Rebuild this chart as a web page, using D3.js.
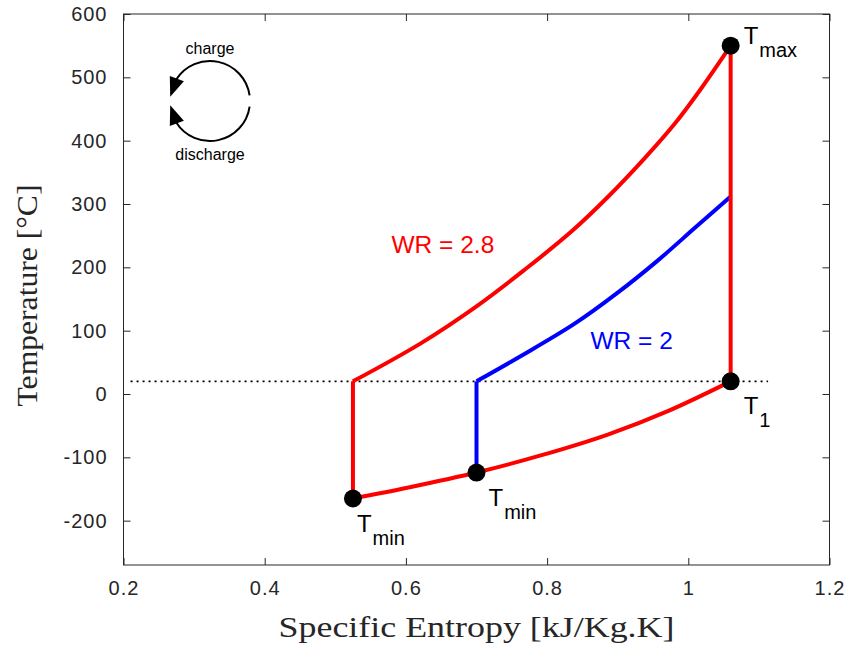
<!DOCTYPE html>
<html>
<head>
<meta charset="utf-8">
<script src="https://cdn.jsdelivr.net/npm/d3@7"></script>
<style>
  body { margin: 0; background: #fff; }
  svg text { font-family: "Liberation Sans", Arial, sans-serif; }
</style>
</head>
<body>
<script>
// T-s diagram values
// WR = 2.8 cycle: compression (upper) and expansion (lower) curves
var redUpperS = [0.525, 0.621, 0.702, 0.768, 0.834, 0.886, 0.938, 0.981, 1.018, 1.06];
var redUpperT = [20, 80, 140, 196, 256, 311, 372, 427, 482, 550];
var redLowerS = [1.06, 0.971, 0.886, 0.791, 0.70, 0.602, 0.525];
var redLowerT = [20, -27, -64, -97, -124, -148, -165];
// WR = 2 cycle
var blueUpperS = [0.70, 0.763, 0.839, 0.900, 0.957, 1.009, 1.06];
var blueUpperT = [20, 60, 111, 160, 211, 262, 312];
var ambientS = [0.21, 1.113];
var ambientT = [20, 20];
var stateS = [1.06, 1.06, 0.525, 0.70];
var stateT = [550, 20, -165, -124];
var stateSub = ['max', '1', 'min', 'min'];
var xTicks = [0.2, 0.4, 0.6, 0.8, 1, 1.2];
var yTicks = [-200, -100, 0, 100, 200, 300, 400, 500, 600];
var xDomain = [0.2, 1.2];
var yDomain = [-270, 600];

var margin = { top: 14, right: 14.5, bottom: 80, left: 123.5 },
    W = 844, H = 645,
    width = W - margin.left - margin.right,
    height = H - margin.top - margin.bottom;

var svg = d3.select("body").append("svg")
    .attr("width", W)
    .attr("height", H);

var g = svg.append("g")
    .attr("transform", "translate(" + margin.left + "," + margin.top + ")");

var x = d3.scaleLinear().domain(xDomain).range([0, width]);
var y = d3.scaleLinear().domain(yDomain).range([height, 0]);

var axisColor = "#262626";

// box with inward ticks on all four sides (matlab style)
function styleAxis(sel, showLabels) {
    sel.select(".domain").remove();
    sel.selectAll(".tick line").attr("stroke", axisColor).attr("stroke-width", 1);
    sel.selectAll(".tick text")
        .attr("fill", axisColor)
        .style("font-size", "20px")
        .style("letter-spacing", "1px")
        .style("display", showLabels ? null : "none");
}
var fmt = function (d) { return String(+d.toFixed(1)); };

g.append("g")
    .attr("transform", "translate(0," + height + ")")
    .call(d3.axisBottom(x).tickValues(xTicks).tickSizeInner(-7).tickSizeOuter(0).tickPadding(16).tickFormat(fmt))
    .call(styleAxis, true);
g.append("g")
    .call(d3.axisTop(x).tickValues(xTicks).tickSizeInner(-7).tickSizeOuter(0))
    .call(styleAxis, false);
g.append("g")
    .call(d3.axisLeft(y).tickValues(yTicks).tickSizeInner(-7).tickSizeOuter(0).tickPadding(16).tickFormat(fmt))
    .call(styleAxis, true);
g.append("g")
    .attr("transform", "translate(" + width + ",0)")
    .call(d3.axisRight(y).tickValues(yTicks).tickSizeInner(-7).tickSizeOuter(0))
    .call(styleAxis, false);

g.append("rect")
    .attr("width", width)
    .attr("height", height)
    .attr("fill", "none")
    .attr("stroke", axisColor)
    .attr("stroke-width", 1);

var line = d3.line()
    .x(function (d) { return x(d[0]); })
    .y(function (d) { return y(d[1]); });
var curve = d3.line()
    .x(function (d) { return x(d[0]); })
    .y(function (d) { return y(d[1]); })
    .curve(d3.curveCatmullRom.alpha(0.5));

// ambient temperature line
g.append("path")
    .attr("d", line(d3.zip(ambientS, ambientT)))
    .attr("fill", "none")
    .attr("stroke", "#000")
    .attr("stroke-width", 1.8)
    .attr("stroke-dasharray", "2,4");

function drawPath(d, color) {
    g.append("path")
        .attr("d", d)
        .attr("fill", "none")
        .attr("stroke", color)
        .attr("stroke-width", 4)
        .attr("stroke-linejoin", "round");
}

// blue cycle: vertical from Tmin up to ambient, then compression curve
drawPath(line([[stateS[3], stateT[3]], [blueUpperS[0], blueUpperT[0]]]), "#0000ff");
drawPath(curve(d3.zip(blueUpperS, blueUpperT)), "#0000ff");

// red cycle
drawPath(line([[stateS[2], stateT[2]], [redUpperS[0], redUpperT[0]]]), "#ff0000");
drawPath(curve(d3.zip(redUpperS, redUpperT)), "#ff0000");
drawPath(line([[stateS[0], stateT[0]], [stateS[1], stateT[1]]]), "#ff0000");
drawPath(curve(d3.zip(redLowerS, redLowerT)), "#ff0000");

// state points
var states = stateS.map(function (s, i) { return { s: s, t: stateT[i], sub: stateSub[i] }; });
// label offsets from the marker, px
var labelOff = [[13, -2], [13, 33], [4, 33], [12, 33]];

g.selectAll("circle.state")
    .data(states)
    .enter()
    .append("circle")
    .attr("class", "state")
    .attr("cx", function (d) { return x(d.s); })
    .attr("cy", function (d) { return y(d.t); })
    .attr("r", 9)
    .attr("fill", "#000");

var lbl = g.selectAll("text.state")
    .data(states)
    .enter()
    .append("text")
    .attr("class", "state")
    .attr("x", function (d, i) { return x(d.s) + labelOff[i][0]; })
    .attr("y", function (d, i) { return y(d.t) + labelOff[i][1]; })
    .attr("fill", "#000");
lbl.append("tspan").style("font-size", "24px").text("T");
lbl.append("tspan").style("font-size", "20px").attr("dx", 1).attr("dy", 13)
    .text(function (d) { return d.sub; });

// WR labels
g.append("text")
    .attr("x", 391.5 - margin.left)
    .attr("y", 253 - margin.top)
    .attr("fill", "#ff0000")
    .style("font-size", "24.5px")
    .text("WR = 2.8");
g.append("text")
    .attr("x", 590.5 - margin.left)
    .attr("y", 349 - margin.top)
    .attr("fill", "#0000ff")
    .style("font-size", "24.5px")
    .text("WR = 2");

// charge / discharge sketch
var cx = 210, cy = 101, r = 40;
function pt(a) { return [cx + r * Math.cos(a * Math.PI / 180), cy + r * Math.sin(a * Math.PI / 180)]; }
function arrow(a0, a1, tipA, baseA) {
    var p = d3.path();
    var s = pt(a0);
    p.moveTo(s[0], s[1]);
    p.arc(cx, cy, r, a0 * Math.PI / 180, a1 * Math.PI / 180, a1 < a0);
    svg.append("path").attr("d", p.toString())
        .attr("fill", "none").attr("stroke", "#000").attr("stroke-width", 2);
    var tip = pt(tipA), b = pt(baseA);
    var dx = tip[0] - b[0], dy = tip[1] - b[1], L = Math.sqrt(dx * dx + dy * dy);
    var nx = -dy / L * 7.5, ny = dx / L * 7.5;
    svg.append("path")
        .attr("d", "M" + tip + "L" + [b[0] + nx, b[1] + ny] + "L" + [b[0] - nx, b[1] - ny] + "Z")
        .attr("fill", "#000");
}
arrow(-8, -148, -174, -146);
arrow(8, 148, 174, 146);
svg.append("text").attr("x", cx).attr("y", 54).attr("text-anchor", "middle")
    .style("font-size", "16px").text("charge");
svg.append("text").attr("x", cx).attr("y", 160).attr("text-anchor", "middle")
    .style("font-size", "16px").text("discharge");

// axis titles
svg.append("text")
    .attr("x", margin.left + width / 2)
    .attr("y", 637)
    .attr("text-anchor", "middle")
    .attr("textLength", 396)
    .attr("lengthAdjust", "spacingAndGlyphs")
    .attr("fill", axisColor)
    .style("font-family", "'Liberation Serif', 'Times New Roman', serif")
    .style("font-size", "30px")
    .text("Specific Entropy [kJ/Kg.K]");
svg.append("text")
    .attr("transform", "translate(37," + (margin.top + height / 2 + 6) + ") rotate(-90)")
    .attr("text-anchor", "middle")
    .attr("textLength", 222)
    .attr("lengthAdjust", "spacingAndGlyphs")
    .attr("fill", axisColor)
    .style("font-family", "'Liberation Serif', 'Times New Roman', serif")
    .style("font-size", "30px")
    .text("Temperature [\u00b0C]");
</script>
</body>
</html>
